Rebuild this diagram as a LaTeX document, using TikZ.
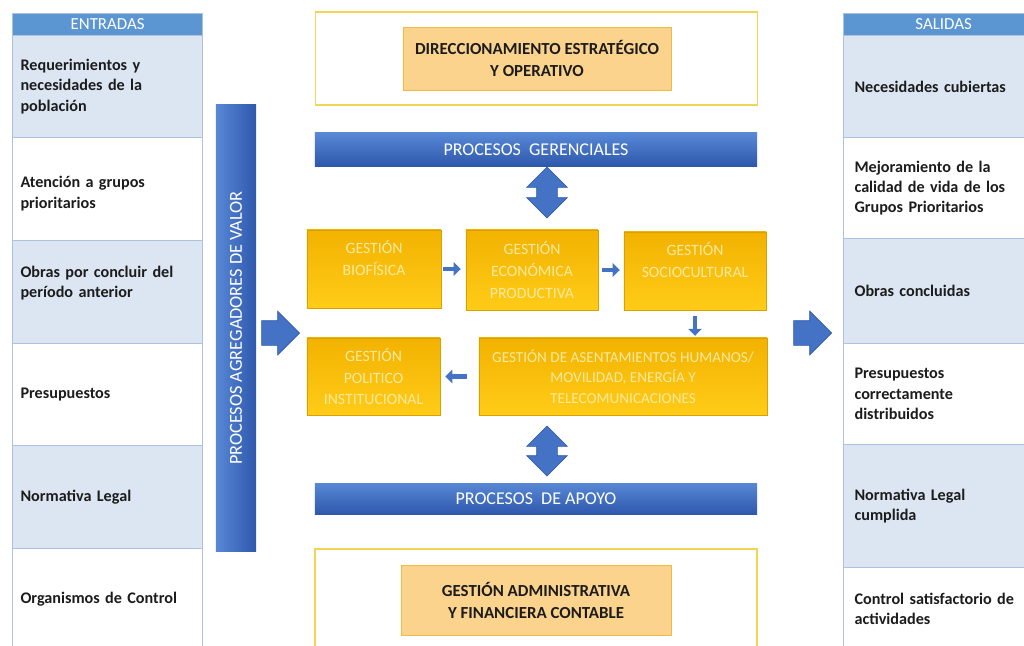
\documentclass[tikz,border=0pt]{standalone}
\usepackage{fontspec}
\setmainfont{Carlito}
\usetikzlibrary{arrows.meta,positioning,shapes.arrows}
\definecolor{hdrblue}{RGB}{91,150,211}
\definecolor{rowblue}{RGB}{220,230,242}
\definecolor{gridln}{RGB}{172,194,222}
\definecolor{barblue}{RGB}{68,114,196}
\definecolor{bardark}{RGB}{46,88,172}
\definecolor{barlite}{RGB}{88,136,214}
\definecolor{goldtop}{RGB}{242,178,0}
\definecolor{goldbot}{RGB}{255,204,24}
\definecolor{goldtxt}{RGB}{253,233,160}
\definecolor{peach}{RGB}{251,211,140}
\definecolor{peachln}{RGB}{240,184,70}
\definecolor{frameyel}{RGB}{244,212,84}
\definecolor{inktxt}{RGB}{28,28,28}
\tikzset{
  cellL/.style={anchor=north west, draw=gridln, line width=0.8pt, inner ysep=0pt,
    inner xsep=0.2cm, text width=4.35cm, align=left, text=inktxt,
    font=\fontsize{11.5}{14.5}\selectfont\bfseries},
  cellR/.style={cellL, inner xsep=0.275cm, text width=4.45cm},
  hdrcell/.style={anchor=north west, fill=hdrblue, draw=gridln, line width=0.8pt,
    inner sep=0pt, minimum height=0.55cm, text=white,
    font=\fontsize{12}{13}\selectfont},
  gestbox/.style={shade, top color=goldtop, bottom color=goldbot, draw=goldtop!90!black,
    line width=0.3pt, inner sep=0pt, align=center, text=goldtxt,
    font=\fontsize{11.2}{15.6}\selectfont},
  procbar/.style={shade, top color=barlite, bottom color=bardark, inner sep=0pt,
    minimum width=11.05cm, text=white, font=\fontsize{12.8}{14}\selectfont},
  framebox/.style={draw=frameyel, line width=0.9pt, fill=white, minimum width=11.05cm},
  corebox/.style={fill=peach, draw=peachln, line width=0.6pt, align=center, text=inktxt,
    minimum width=6.7cm, font=\fontsize{12}{15.6}\selectfont\bfseries},
  bigarrow/.style={single arrow, fill=barblue, draw=bardark, line width=0.4pt,
    inner xsep=0pt, inner ysep=0.3cm, minimum height=0.95cm, anchor=tip,
    single arrow head extend=0.24cm, single arrow tip angle=90,
    single arrow head indent=0pt},
  twoarrow/.style={double arrow, fill=barblue, draw=bardark, line width=0.4pt,
    rotate=90, inner xsep=0pt, inner ysep=0.25cm, minimum height=1.275cm,
    double arrow head extend=0.25cm, double arrow tip angle=90},
  smallarr/.style={-{Triangle[length=5pt,width=9.5pt]}, line width=3.4pt, barblue},
}
\begin{document}
\begin{tikzpicture}[x=0.025cm, y=-0.025cm]
  \useasboundingbox[fill=white] (0,0) rectangle (1024,645);

  % entradas
  \node[hdrcell, minimum width=4.75cm] (inhdr) at (12,13) {ENTRADAS};
  \node[cellL, fill=rowblue, minimum height=2.55cm] (in1) at (12,35)
    {Requerimientos y\\ necesidades de la\\ población};
  \node[cellL, fill=white, minimum height=2.575cm] (in2) at (12,137)
    {~\\ Atención a grupos\\ prioritarios};
  \node[cellL, fill=rowblue, minimum height=2.575cm] (in3) at (12,240)
    {Obras por concluir del\\ período anterior\\ ~};
  \node[cellL, fill=white, minimum height=2.55cm] (in4) at (12,343) {Presupuestos};
  \node[cellL, fill=rowblue, minimum height=2.575cm] (in5) at (12,445) {Normativa Legal};
  \node[cellL, fill=white, minimum height=2.55cm] (in6) at (12,548) {Organismos de Control};

  % salidas
  \node[hdrcell, minimum width=5cm] (outhdr) at (843,13) {SALIDAS};
  \node[cellR, fill=rowblue, minimum height=2.55cm] (out1) at (843,35)
    {Necesidades cubiertas};
  \node[cellR, fill=white, minimum height=2.525cm] (out2) at (843,137)
    {Mejoramiento de la\\ calidad de vida de los\\ Grupos Prioritarios};
  \node[cellR, fill=rowblue, minimum height=2.625cm] (out3) at (843,238)
    {Obras concluidas};
  \node[cellR, fill=white, minimum height=2.525cm] (out4) at (843,343)
    {Presupuestos\\ correctamente\\ distribuidos};
  \node[cellR, fill=rowblue, minimum height=3.075cm] (out5) at (843,444)
    {Normativa Legal\\ cumplida};
  \node[cellR, fill=white, minimum height=2.075cm] (out6) at (843,567)
    {Control satisfactorio de\\ actividades};

  % barra vertical y flechas grandes
  \node[shade, left color=barlite, right color=bardark, minimum width=1cm,
    minimum height=11.15cm, inner sep=0pt] (valbar) at (236,328) {};
  \node[rotate=90, text=white, font=\fontsize{13}{14}\selectfont] (valtxt) at (valbar)
    {PROCESOS AGREGADORES DE VALOR};
  \node[bigarrow] (inarrow) at (300,333) {};
  \node[bigarrow] (outarrow) at (832,333) {};

  % bloque superior
  \node[framebox, minimum height=2.325cm] (dirframe) at (536.5,58.5) {};
  \node[corebox, minimum height=1.575cm] (dir) at (537,58.5)
    {DIRECCIONAMIENTO ESTRATÉGICO\\ Y OPERATIVO};
  \node[procbar, minimum height=0.825cm] (geren) at (536,149.5)
    {PROCESOS\ \ GERENCIALES};
  \node[twoarrow] (upper) at (547,192.5) {};

  % gestiones
  \node[gestbox, minimum width=3.35cm, minimum height=1.95cm] (bio) at (374,269)
    {GESTIÓN\\ BIOFÍSICA\\ ~};
  \node[gestbox, minimum width=3.3cm, minimum height=2cm] (eco) at (532,270)
    {GESTIÓN\\ ECONÓMICA\\ PRODUCTIVA};
  \node[gestbox, minimum width=3.55cm, minimum height=1.95cm] (soc) at (695,271)
    {GESTIÓN\\ SOCIOCULTURAL\\ ~};
  \node[gestbox, minimum width=3.325cm, minimum height=1.925cm] (pol) at (373.5,376.5)
    {GESTIÓN\\ POLITICO\\ INSTITUCIONAL};
  \node[gestbox, minimum width=7.2cm, minimum height=1.925cm,
    font=\fontsize{10.8}{14.6}\selectfont] (asent) at (623,376.5)
    {GESTIÓN DE ASENTAMIENTOS HUMANOS/\\ MOVILIDAD, ENERGÍA Y\\ TELECOMUNICACIONES};
  \draw[smallarr, shorten <=0.05cm, shorten >=0.125cm] (bio.east) -- (bio.east -| eco.west);
  \draw[smallarr, shorten <=0.1cm, shorten >=0.1cm] (eco.east) -- (eco.east -| soc.west);
  \draw[smallarr, shorten <=0.15cm, shorten >=0.05cm] (soc.south) -- (soc.south |- asent.north);
  \draw[smallarr, shorten <=0.3cm, shorten >=0.125cm] (asent.west) -- (asent.west -| pol.east);

  % bloque inferior
  \node[twoarrow, minimum height=1.25cm] (lower) at (547,451) {};
  \node[procbar, minimum height=0.775cm] (apoyo) at (536,498.5)
    {PROCESOS\ \ DE APOYO};
  \node[framebox, minimum height=3.275cm] (admframe) at (536,614.5) {};
  \node[corebox, minimum width=6.75cm, minimum height=1.75cm] (adm) at (536,600)
    {GESTIÓN ADMINISTRATIVA\\ Y FINANCIERA CONTABLE};
\end{tikzpicture}
\end{document}
